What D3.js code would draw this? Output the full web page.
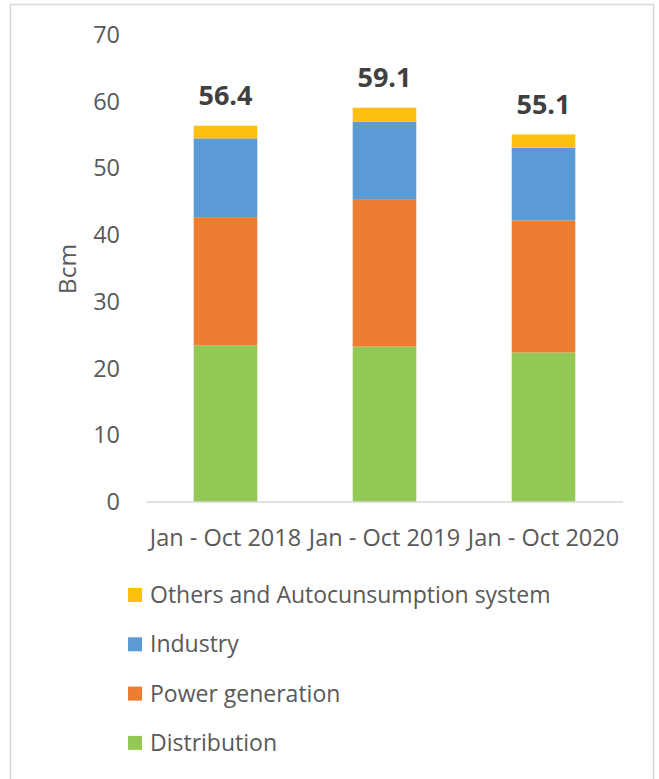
<!DOCTYPE html>
<html>
<head>
<meta charset="utf-8">
<script src="https://cdn.jsdelivr.net/npm/d3@7"></script>
<style>
  html, body { margin: 0; padding: 0; background: #fff; }
  svg { display: block; }
  text { font-family: "Open Sans", sans-serif; }
</style>
</head>
<body>
<svg id="chart" width="659" height="779"></svg>
<script>
const categories = ["Jan - Oct 2018", "Jan - Oct 2019", "Jan - Oct 2020"];
const seriesNames = ["Distribution", "Power generation", "Industry", "Others and Autocunsumption system"];
const distribution = [23.5, 23.3, 22.4];
const powerGeneration = [19.2, 22.1, 19.8];
const industry = [11.8, 11.6, 10.9];
const others = [1.9, 2.1, 2.0];
const totals = [56.4, 59.1, 55.1];
const yTicks = [0, 10, 20, 30, 40, 50, 60, 70];
const colors = ["#92c853", "#ed7d31", "#5b9bd5", "#fdc010"];

const svg = d3.select("#chart");

// outer border
svg.append("rect").attr("x", 10.5).attr("y", 4.5).attr("width", 643).attr("height", 790)
  .attr("fill", "none").attr("stroke", "#d9d9d9").attr("stroke-width", 1.5);

const plotLeft = 146, plotRight = 623, plotTop = 35, plotBottom = 502;

const x = d3.scaleBand().domain(categories).range([plotLeft, plotRight]).paddingInner(0.6).paddingOuter(0.3);
const y = d3.scaleLinear().domain([0, 70]).range([plotBottom, plotTop]);

const rows = categories.map((c, i) => ({
  cat: c,
  "Distribution": distribution[i],
  "Power generation": powerGeneration[i],
  "Industry": industry[i],
  "Others and Autocunsumption system": others[i]
}));
const stack = d3.stack().keys(seriesNames)(rows);

// y axis labels
const yAxis = d3.axisLeft(y).tickValues(yTicks).tickSize(0).tickPadding(0);
const yg = svg.append("g").attr("transform", `translate(120,0)`).call(yAxis);
yg.select(".domain").remove();
yg.selectAll("text").attr("font-size", 23.5).attr("fill", "#595959")
  .attr("font-family", "Open Sans, sans-serif");

// bars
svg.append("g").selectAll("g").data(stack).join("g")
  .attr("fill", (d, i) => colors[i])
  .selectAll("rect").data(d => d).join("rect")
  .attr("x", d => x(d.data.cat))
  .attr("width", x.bandwidth())
  .attr("y", d => y(d[1]))
  .attr("height", d => y(d[0]) - y(d[1]));

// baseline / x axis
const xAxis = d3.axisBottom(x).tickSize(0).tickPadding(27);
const xg = svg.append("g").attr("transform", `translate(0,${plotBottom})`).call(xAxis);
xg.select(".domain").attr("stroke", "#d9d9d9").attr("stroke-width", 1.5)
  .attr("d", `M${plotLeft},0H${plotRight}`);
xg.selectAll("text").attr("font-size", 23.5).attr("fill", "#595959")
  .attr("font-family", "Open Sans, sans-serif");

// total labels
svg.append("g").selectAll("text").data(categories).join("text")
  .attr("x", d => x(d) + x.bandwidth() / 2)
  .attr("y", (d, i) => y(totals[i]) - 30)
  .attr("dy", "0.35em")
  .attr("text-anchor", "middle")
  .attr("font-size", 27).attr("font-weight", "bold").attr("fill", "#404040")
  .text((d, i) => totals[i].toFixed(1));

// y axis title
svg.append("text").attr("transform", "translate(67,269) rotate(-90)")
  .attr("text-anchor", "middle").attr("dy", "0.35em")
  .attr("font-size", 24.5).attr("fill", "#595959").text("Bcm");

// legend (reverse order)
const legendOrder = seriesNames.map((n, i) => ({ name: n, color: colors[i] })).reverse();
const lg = svg.append("g").selectAll("g").data(legendOrder).join("g")
  .attr("transform", (d, i) => `translate(128,${595 + i * 49.3})`);
lg.append("rect").attr("x", 0).attr("y", -7).attr("width", 14).attr("height", 14).attr("fill", d => d.color);
lg.append("text").attr("x", 22).attr("dy", "0.35em").attr("font-size", 23).attr("fill", "#595959")
  .text(d => d.name);
</script>
</body>
</html>
